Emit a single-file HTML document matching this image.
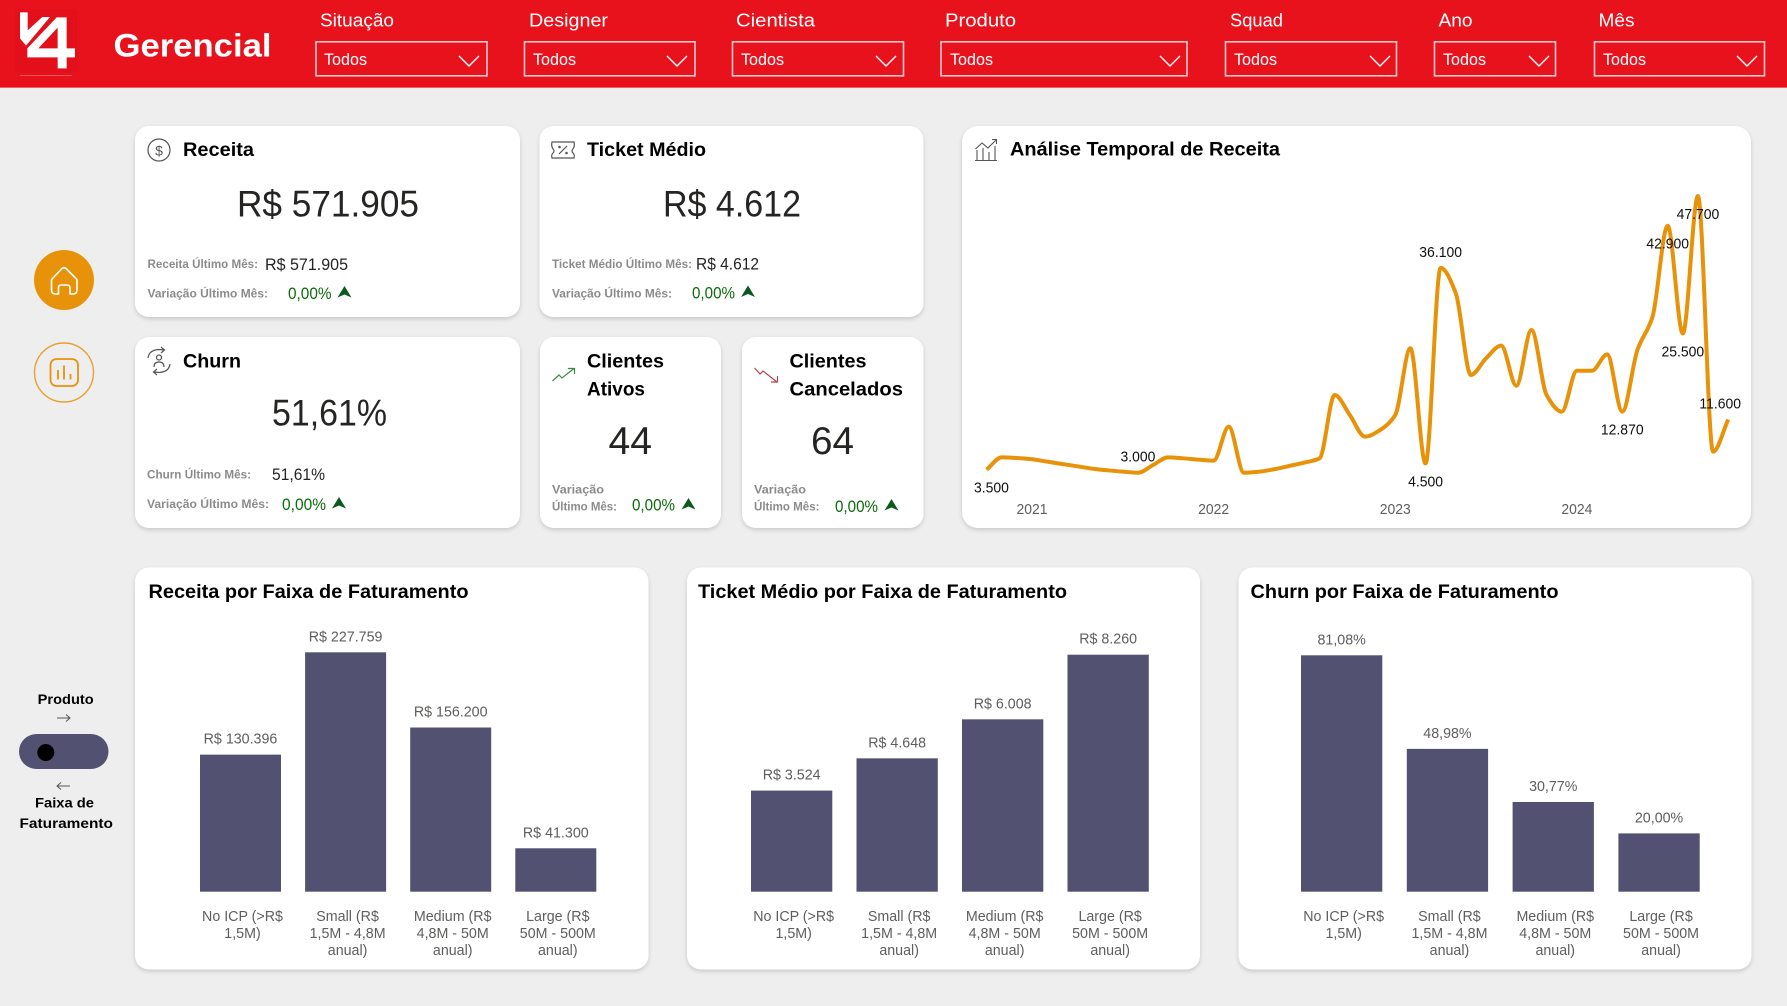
<!DOCTYPE html>
<html lang="pt-BR">
<head>
<meta charset="utf-8">
<title>Gerencial</title>
<style>
html,body{margin:0;padding:0;width:1787px;height:1006px;overflow:hidden;background:#eeeeee}
svg{display:block;font-family:"Liberation Sans",Arial,sans-serif}
.flt{fill:#fff;font-size:18px}
.tod{fill:#fff;font-size:16.5px}
.box{fill:none;stroke:#f6c9cb;stroke-width:1.6}
.chev{fill:none;stroke:#fff;stroke-width:1.4}
.card{fill:#fff;filter:url(#sh)}
.ttl{fill:#000;font-size:19.5px;font-weight:bold}
.big{fill:#252423;font-size:37px}
.sub{fill:#8b8b8b;font-size:11.5px;font-weight:bold}
.val{fill:#252423;font-size:16.5px}
.pct{fill:#0b6b0b;font-size:16.5px}
.arr{fill:#0a5a1e}
.ic{fill:none;stroke:#555;stroke-width:1.2}
.side{fill:#000;font-size:14px;font-weight:bold}
</style>
</head>
<body>
<svg xmlns="http://www.w3.org/2000/svg" width="1787" height="1006" viewBox="0 0 1787 1006">
<defs>
<filter id="sh" x="-5%" y="-5%" width="110%" height="112%"><feDropShadow dx="0" dy="2" stdDeviation="2" flood-color="#000" flood-opacity="0.16"/></filter>
</defs>
<rect width="1787" height="1006" fill="#eeeeee"/>

<!-- header -->
<g>
<rect width="1787" height="87.5" fill="#e8121d"/>
<rect y="87" width="1787" height="1" fill="#f06068"/>
<g transform="translate(10,5) scale(0.3333)">
<rect x="15" y="12" width="186" height="190" rx="8" fill="#e30f1b"/>
<rect x="30" y="210" width="155" height="3" fill="#f0555c"/>
<path fill="#fff" d="M30 22H53V76L97 36H120L48 122L30 100Z"/>
<path fill="#fff" fill-rule="evenodd" d="M140 37H170V130H195V157H170V190H143V157H52V130ZM85 130H143V68Z"/>
</g>
<text x="113.5" y="56.5" font-size="32" font-weight="bold" fill="#fff" textLength="158">Gerencial</text>

<g>
<text class="flt" x="320" y="26.5" textLength="74">Situação</text>
<rect class="box" x="316" y="41.8" width="171" height="34"/>
<text class="tod" x="324" y="65" textLength="43">Todos</text>
<path class="chev" d="M459 56L469 66L479 56"/>
</g>
<g>
<text class="flt" x="529" y="26.5" textLength="79">Designer</text>
<rect class="box" x="524.5" y="41.8" width="170.5" height="34"/>
<text class="tod" x="533" y="65" textLength="43">Todos</text>
<path class="chev" d="M667 56L677 66L687 56"/>
</g>
<g>
<text class="flt" x="736" y="26.5" textLength="79">Cientista</text>
<rect class="box" x="732.5" y="41.8" width="171" height="34"/>
<text class="tod" x="741" y="65" textLength="43">Todos</text>
<path class="chev" d="M876 56L886 66L896 56"/>
</g>
<g>
<text class="flt" x="945" y="26.5" textLength="71">Produto</text>
<rect class="box" x="941" y="41.8" width="246" height="34"/>
<text class="tod" x="950" y="65" textLength="43">Todos</text>
<path class="chev" d="M1160 56L1170 66L1180 56"/>
</g>
<g>
<text class="flt" x="1230" y="26.5" textLength="53">Squad</text>
<rect class="box" x="1225.5" y="41.8" width="171" height="34"/>
<text class="tod" x="1234" y="65" textLength="43">Todos</text>
<path class="chev" d="M1370 56L1380 66L1390 56"/>
</g>
<g>
<text class="flt" x="1438.5" y="26.5" textLength="34">Ano</text>
<rect class="box" x="1434.5" y="41.8" width="121" height="34"/>
<text class="tod" x="1443" y="65" textLength="43">Todos</text>
<path class="chev" d="M1529 56L1539 66L1549 56"/>
</g>
<g>
<text class="flt" x="1598.5" y="26.5" textLength="36">Mês</text>
<rect class="box" x="1594.5" y="41.8" width="170" height="34"/>
<text class="tod" x="1603" y="65" textLength="43">Todos</text>
<path class="chev" d="M1737 56L1747 66L1757 56"/>
</g>
</g>

<!-- sidebar -->
<g>
<circle cx="64" cy="280" r="30" fill="#e8920a"/>
<path fill="none" stroke="#fff" stroke-width="1.6" stroke-linejoin="round" d="M51.5 281Q51.5 279 53 278L62 268.5Q64 267 66 268.5L75.5 278Q77 279 77 281V290Q77 294 73 294H70V288Q70 285 67 285H61Q58.500 285 58.500 288V294H55.500Q51.500 294 51.500 290Z"/>
</g>
<g>
<circle cx="64" cy="372.500" r="29.500" fill="none" stroke="#eba02e" stroke-width="1.400"/>
<rect x="50.500" y="359" width="27.500" height="27" rx="6" fill="none" stroke="#e8920a" stroke-width="1.800"/>
<path d="M58 379.500V370M64 379.500V365.500M70.500 379.500V374" stroke="#e8920a" stroke-width="1.800" fill="none"/>
</g>
<g>
<text class="side" x="37.700" y="704" textLength="56">Produto</text>
<path d="M57 718H70M66 714.500L70 718L66 721.500" fill="none" stroke="#555" stroke-width="1"/>
<rect x="19" y="734" width="89.500" height="35" rx="17.500" fill="#535172"/>
<circle cx="45.800" cy="752.500" r="8.500" fill="#000"/>
<path d="M70 786H57M61 782.500L57 786L61 789.500" fill="none" stroke="#555" stroke-width="1"/>
<text class="side" x="35" y="807.500" textLength="59">Faixa de</text>
<text class="side" x="19.500" y="828" textLength="93.500">Faturamento</text>
</g>

<!-- KPI: Receita -->
<g>
<rect class="card" x="135" y="126" width="385" height="191" rx="14"/>
<g>
<circle class="ic" cx="159" cy="150" r="11"/>
<text x="159" y="155.500" text-anchor="middle" font-size="14" fill="#555">$</text>
</g>
<text class="ttl" x="183" y="156" textLength="71">Receita</text>
<text class="big" x="237" y="216.500" textLength="182">R$ 571.905</text>
<text class="sub" x="147.500" y="268" textLength="110.500">Receita Último Mês:</text>
<text class="val" x="265" y="270" textLength="83">R$ 571.905</text>
<text class="sub" x="147.500" y="297.500" textLength="120.500">Variação Último Mês:</text>
<text class="pct" x="288" y="299" textLength="43.500">0,00%</text>
<path class="arr" transform="translate(337.500,286)" d="M0 11.500L7 0L14 11.500L7 8.500Z"/>
</g>

<!-- KPI: Ticket -->
<g>
<rect class="card" x="539.500" y="126" width="384" height="191" rx="14"/>
<g>
<path class="ic" d="M552 142H574Q575 146 573 149Q571 151 573 153Q575 155 574 158H552Q551 155 553 153Q555 151 553 149Q551 146 552 142Z"/>
<path d="M559 154L567 146" stroke="#555" stroke-width="1.200"/>
<circle cx="559.500" cy="147" r="1.300" fill="#555"/>
<circle cx="566.500" cy="153" r="1.300" fill="#555"/>
</g>
<text class="ttl" x="587" y="156" textLength="119">Ticket Médio</text>
<text class="big" x="663" y="216.500" textLength="138">R$ 4.612</text>
<text class="sub" x="552" y="268" textLength="140">Ticket Médio Último Mês:</text>
<text class="val" x="696" y="269.500" textLength="63">R$ 4.612</text>
<text class="sub" x="552" y="297.500" textLength="120">Variação Último Mês:</text>
<text class="pct" x="692" y="298.500" textLength="43">0,00%</text>
<path class="arr" transform="translate(741,285.500)" d="M0 11.500L7 0L14 11.500L7 8.500Z"/>
</g>

<!-- KPI: Churn -->
<g>
<rect class="card" x="135" y="337" width="385" height="191" rx="14"/>
<g fill="none" stroke="#555" stroke-width="1.200">
<path d="M148 358Q149 350 159 349.500L164 350M161 347L164.500 350L161 353"/>
<path d="M170 364Q169 372 159 372.500L154 372M157 375L153.500 372L157 369"/>
<circle cx="159" cy="357.500" r="2.500"/>
<path d="M154 367Q154 362 159 362Q164 362 164 367"/>
</g>
<text class="ttl" x="183" y="367.500" textLength="58">Churn</text>
<text class="big" x="272" y="425.500" textLength="115">51,61%</text>
<text class="sub" x="147" y="478.500" textLength="104">Churn Último Mês:</text>
<text class="val" x="272" y="480" textLength="53">51,61%</text>
<text class="sub" x="147" y="508" textLength="122">Variação Último Mês:</text>
<text class="pct" x="282" y="510" textLength="44">0,00%</text>
<path class="arr" transform="translate(332,497)" d="M0 11.500L7 0L14 11.500L7 8.500Z"/>
</g>

<!-- KPI: Clientes Ativos -->
<g>
<rect class="card" x="540" y="337" width="181" height="191" rx="14"/>
<path d="M552.500 381L559 375L562 378L574 368.500M568 368.500H574.500V374" fill="none" stroke="#3c8a46" stroke-width="1.200"/>
<text class="ttl" x="587" y="367.500" textLength="77">Clientes</text>
<text class="ttl" x="587" y="395.500" textLength="58">Ativos</text>
<text x="608.500" y="454" font-size="39" fill="#252423" textLength="43.500">44</text>
<text class="sub" x="552" y="493.500" textLength="52">Variação</text>
<text class="sub" x="552" y="510.500" textLength="65">Último Mês:</text>
<text class="pct" x="632" y="510.500" textLength="43">0,00%</text>
<path class="arr" transform="translate(681.500,498)" d="M0 11.500L7 0L14 11.500L7 8.500Z"/>
</g>

<!-- KPI: Clientes Cancelados -->
<g>
<rect class="card" x="742" y="337" width="181.500" height="191" rx="14"/>
<path d="M754.500 368L760 374L763 371L777 382M771 382H777.500V376" fill="none" stroke="#b5434c" stroke-width="1.200"/>
<text class="ttl" x="789.500" y="367.500" textLength="77">Clientes</text>
<text class="ttl" x="789.500" y="395.500" textLength="113.500">Cancelados</text>
<text x="811" y="454" font-size="39" fill="#252423" textLength="43">64</text>
<text class="sub" x="754" y="493.500" textLength="52">Variação</text>
<text class="sub" x="754" y="510.500" textLength="65.500">Último Mês:</text>
<text class="pct" x="835" y="512" textLength="43">0,00%</text>
<path class="arr" transform="translate(884.500,499)" d="M0 11.500L7 0L14 11.500L7 8.500Z"/>
</g>

<!-- line chart -->
<g>
<rect class="card" x="962" y="126" width="789" height="402" rx="16"/>
<g fill="none" stroke="#555" stroke-width="1.100">
<path d="M975 160.500H997M977 160V150M983 160V148M989 160V152M995 160V146"/>
<path d="M975.500 149L982 143L988 148L996 140M992 139.500H996.500V144"/>
</g>
<text class="ttl" x="1010" y="155.500" textLength="270">Análise Temporal de Receita</text>
<g id="line-chart"></g>
</g>

<!-- bar chart cards -->
<g>
<rect class="card" x="135" y="567.500" width="513.500" height="402" rx="14"/>
<text class="ttl" x="148.500" y="598" textLength="320">Receita por Faixa de Faturamento</text>
<g id="bars-revenue"></g>
</g>
<g>
<rect class="card" x="687" y="567.500" width="513" height="402" rx="14"/>
<text class="ttl" x="698" y="598" textLength="369">Ticket Médio por Faixa de Faturamento</text>
<g id="bars-ticket"></g>
</g>
<g>
<rect class="card" x="1238.500" y="567.500" width="513" height="402" rx="14"/>
<text class="ttl" x="1250.500" y="598" textLength="308">Churn por Faixa de Faturamento</text>
<g id="bars-churn"></g>
</g>
</svg>

<script>
/* ---------- chart data ---------- */
const barCategories = [
  ['No ICP (>R$', '1,5M)'],
  ['Small (R$', '1,5M - 4,8M', 'anual)'],
  ['Medium (R$', '4,8M - 50M', 'anual)'],
  ['Large (R$', '50M - 500M', 'anual)']
];
const revenueValues = [130396, 227759, 156200, 41300];
const revenueLabels = ['R$ 130.396', 'R$ 227.759', 'R$ 156.200', 'R$ 41.300'];
const ticketValues = [3524, 4648, 6008, 8260];
const ticketLabels = ['R$ 3.524', 'R$ 4.648', 'R$ 6.008', 'R$ 8.260'];
const churnValues = [81.08, 48.98, 30.77, 20.00];
const churnLabels = ['81,08%', '48,98%', '30,77%', '20,00%'];

const lineCategories = [
  '2020-10','2020-11','2020-12',
  '2021-01','2021-02','2021-03','2021-04','2021-05','2021-06','2021-07','2021-08','2021-09','2021-10','2021-11','2021-12',
  '2022-01','2022-02','2022-03','2022-04','2022-05','2022-06','2022-07','2022-08','2022-09','2022-10','2022-11','2022-12',
  '2023-01','2023-02','2023-03','2023-04','2023-05','2023-06','2023-07','2023-08','2023-09','2023-10','2023-11','2023-12',
  '2024-01','2024-02','2024-03','2024-04','2024-05','2024-06','2024-07','2024-08','2024-09','2024-10','2024-11'
];
const lineValues = [
  3500, 5490, 5380, 5170, 4790, 4410, 4040, 3650, 3390, 3170,
  3000, 4250, 5490, 5330, 5110, 4950, 10440, 3000, 3170, 3560,
  4100, 4640, 5330, 15560, 12320, 8830, 9900, 12320, 23100, 4500,
  36100, 32000, 18790, 21490, 23530, 17060, 26060, 15560, 12860, 19480,
  19480, 22130, 12870, 22830, 28200, 42900, 25500, 47700, 6400, 11600
];
const yearTickLabels = ['2021', '2022', '2023', '2024'];
const yearTickCategories = ['2021-01', '2022-01', '2023-01', '2024-01'];
const pointLabelCategories = ['2020-10','2021-08','2023-03','2023-04','2024-04','2024-07','2024-08','2024-09','2024-11'];
const pointLabelTexts = ['3.500','3.000','4.500','36.100','12.870','42.900','25.500','47.700','11.600'];
const pointLabelSides = ['below','above','below','above','below','below','below','below','above'];

/* ---------- helpers ---------- */
const SVGNS = 'http://www.w3.org/2000/svg';
function svgEl(tag, parent) {
  const el = document.createElementNS(SVGNS, tag);
  parent.appendChild(el);
  return el;
}
function squeezeText(el, factor) {
  const w = el.getComputedTextLength();
  el.setAttribute('textLength', (w * factor).toFixed(1));
  el.setAttribute('lengthAdjust', 'spacingAndGlyphs');
}

/* ---------- bar charts ---------- */
function drawBars(groupId, values, labels, cfg) {
  const g = document.getElementById(groupId);
  const xBand = i => cfg.left + i * cfg.step;
  const yVal = v => cfg.base - (v / cfg.domainMax) * cfg.plotH;
  values.forEach((v, i) => {
    const bar = svgEl('rect', g);
    
    
    bar.setAttribute('x', xBand(i));
    bar.setAttribute('y', yVal(v));
    bar.setAttribute('width', cfg.bandW);
    bar.setAttribute('height', Math.max(0, cfg.base - yVal(v)));
    bar.setAttribute('fill', '#535172');

    const cx = xBand(i) + cfg.bandW / 2;
    const lab = svgEl('text', g);
    
    
    lab.setAttribute('x', cx);
    lab.setAttribute('y', yVal(v) - 11);
    lab.setAttribute('text-anchor', 'middle');
    lab.setAttribute('font-size', '15');
    lab.setAttribute('fill', '#605e5c');
    lab.textContent = labels[i];
    squeezeText(lab, 0.95);

    barCategories[i].forEach((line, k) => {
      const t = svgEl('text', g);
      
      
      t.setAttribute('x', cx + 2);
      t.setAttribute('y', 921 + k * 17);
      t.setAttribute('text-anchor', 'middle');
      t.setAttribute('font-size', '15');
      t.setAttribute('fill', '#605e5c');
      t.textContent = line;
      squeezeText(t, 0.95);
    });
  });
}
drawBars('bars-revenue', revenueValues, revenueLabels, {left: 200, step: 105.1, bandW: 81, base: 891.7, plotH: 239.4, domainMax: 227759});
drawBars('bars-ticket', ticketValues, ticketLabels, {left: 751, step: 105.5, bandW: 81.3, base: 891.7, plotH: 237, domainMax: 8260});
drawBars('bars-churn', churnValues, churnLabels, {left: 1301, step: 105.8, bandW: 81.3, base: 891.7, plotH: 236.4, domainMax: 81.08});

/* ---------- line chart ---------- */
function xLine(i) { return 986.6 + i * 15.135; }
function yLine(v) { return 491.3 - v * 0.00619; }

function monotonePath(px, py) {
  const n = px.length, m = [], d = [];
  for (let i = 0; i < n - 1; i++) d[i] = (py[i + 1] - py[i]) / (px[i + 1] - px[i]);
  m[0] = d[0];
  m[n - 1] = d[n - 2];
  for (let i = 1; i < n - 1; i++) {
    m[i] = d[i - 1] * d[i] <= 0 ? 0 : 2 * d[i - 1] * d[i] / (d[i - 1] + d[i]);
  }
  let out = 'M' + px[0].toFixed(2) + ' ' + py[0].toFixed(2);
  for (let i = 0; i < n - 1; i++) {
    const h = (px[i + 1] - px[i]) / 3;
    out += 'C' + (px[i] + h).toFixed(2) + ' ' + (py[i] + m[i] * h).toFixed(2) + ' ' +
      (px[i + 1] - h).toFixed(2) + ' ' + (py[i + 1] - m[i + 1] * h).toFixed(2) + ' ' +
      px[i + 1].toFixed(2) + ' ' + py[i + 1].toFixed(2);
  }
  return out;
}

(function drawLine() {
  const g = document.getElementById('line-chart');
  const line = svgEl('path', g);
  
  
  line.setAttribute('d', monotonePath(lineValues.map((v, i) => xLine(i)), lineValues.map(yLine)));
  line.setAttribute('fill', 'none');
  line.setAttribute('stroke', '#e8920a');
  line.setAttribute('stroke-width', '4');
  line.setAttribute('stroke-linejoin', 'round');

  yearTickLabels.forEach((label, i) => {
    const t = svgEl('text', g);
    
    
    t.setAttribute('x', xLine(lineCategories.indexOf(yearTickCategories[i])));
    t.setAttribute('y', 514);
    t.setAttribute('text-anchor', 'middle');
    t.setAttribute('font-size', '15');
    t.setAttribute('fill', '#605e5c');
    t.textContent = label;
    squeezeText(t, 0.93);
  });

  pointLabelTexts.forEach((label, i) => {
    const idx = lineCategories.indexOf(pointLabelCategories[i]);
    const t = svgEl('text', g);
    
    
    const py = yLine(lineValues[idx]);
    t.setAttribute('y', pointLabelSides[i] === 'above' ? py - 11 : py + 23);
    t.setAttribute('text-anchor', 'middle');
    t.setAttribute('font-size', '15');
    t.setAttribute('fill', '#111');
    t.textContent = label;
    squeezeText(t, 0.93);
    const half = parseFloat(t.getAttribute('textLength')) / 2;
    t.setAttribute('x', Math.min(1741 - half, Math.max(974 + half, xLine(idx))));
  });
})();

/* apply glyph-fit to every static label with a target width */
document.querySelectorAll('text[textLength]').forEach(function (el) {
  el.setAttribute('lengthAdjust', 'spacingAndGlyphs');
});
</script>
</body>
</html>
